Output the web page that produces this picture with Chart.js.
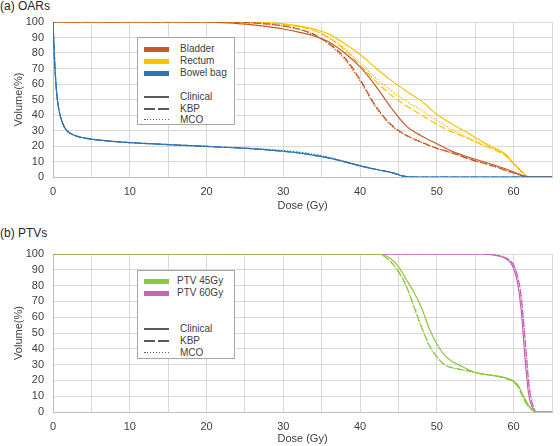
<!DOCTYPE html>
<html>
<head>
<meta charset="utf-8">
<script src="https://cdn.jsdelivr.net/npm/chart.js@4.4.1/dist/chart.umd.min.js"></script>
<style>
  body { margin: 0; background: #fff; font-family: "Liberation Sans", Arial, sans-serif; }
  #wrap { position: relative; width: 560px; height: 446px; overflow: hidden; }
  .box { position: absolute; left: 0; }
  .title { position: absolute; left: 0; font-size: 12px; color: #262626; }
  .legend { position: absolute; background: #fff; border: 1px solid #a6a6a6; box-sizing: border-box; }
  .item { position: absolute; left: 6px; height: 12px; font-size: 10px; color: #404040; }
  .item span.sw { position: absolute; left: 0; top: 4px; width: 25px; height: 5px; }
  .item span.ln { position: absolute; left: 0; top: 5px; width: 25px; height: 1.5px; background: #595959; }
  .item span.ln.dash { background: repeating-linear-gradient(to right, #595959 0 11px, transparent 11px 14px); }
  .item span.ln.dot { height: 1px; background: repeating-linear-gradient(to right, #595959 0 1.5px, transparent 1.5px 3px); }
  .item span.tx { position: absolute; left: 36px; top: 0; white-space: nowrap; }
</style>
</head>
<body>
<div id="wrap">
  <div class="title" style="top:-1px;">(a) OARs</div>
  <div class="box" style="top:0;"><canvas id="oarChart" width="560" height="215"></canvas></div>
  <div class="title" style="top:226px;">(b) PTVs</div>
  <div class="box" style="top:215px;"><canvas id="ptvChart" width="560" height="231"></canvas></div>

  <div class="legend" style="left:137px; top:37px; width:98px; height:88px;">
    <div class="item" style="top:5px;"><span class="sw" style="background:#C55A28"></span><span class="tx">Bladder</span></div>
    <div class="item" style="top:17px;"><span class="sw" style="background:#FFC000"></span><span class="tx">Rectum</span></div>
    <div class="item" style="top:29px;"><span class="sw" style="background:#2E75B6"></span><span class="tx">Bowel bag</span></div>
    <div class="item" style="top:53px;"><span class="ln"></span><span class="tx">Clinical</span></div>
    <div class="item" style="top:65px;"><span class="ln dash"></span><span class="tx">KBP</span></div>
    <div class="item" style="top:76px;"><span class="ln dot"></span><span class="tx">MCO</span></div>
  </div>

  <div class="legend" style="left:137px; top:270px; width:98px; height:89px;">
    <div class="item" style="top:4px;"><span class="sw" style="background:#8DC63F"></span><span class="tx" style="left:33px">PTV 45Gy</span></div>
    <div class="item" style="top:16px;"><span class="sw" style="background:#C963B3"></span><span class="tx" style="left:33px">PTV 60Gy</span></div>
    <div class="item" style="top:52px;"><span class="ln"></span><span class="tx">Clinical</span></div>
    <div class="item" style="top:64px;"><span class="ln dash"></span><span class="tx">KBP</span></div>
    <div class="item" style="top:76px;"><span class="ln dot"></span><span class="tx">MCO</span></div>
  </div>
</div>

<script>
// Dose grid for the OAR panel (Gy)
const doseOAR = [0, 0.1, 0.25, 0.5, 0.75, 1, 1.5, 2, 3, 4, 5, 7, 10, 15, 20,
  22, 24, 26, 28, 30, 32, 34, 36, 38, 40, 42, 44, 46, 48, 50, 52, 54, 56, 58, 59, 60, 61, 62, 65];

// Bladder (% volume)
const bladderClinical = [100, 100, 100, 100, 100, 100, 100, 100, 100, 100, 100, 100, 100, 100, 100,
  99.5, 99, 98.2, 97, 95.5, 93.5, 91, 87, 80, 71, 59, 45, 33, 26.5, 21.5, 16.5, 13, 10, 6.8, 5.2, 3.2, 1.3, 0, 0];
const bladderKBP = [100, 100, 100, 100, 100, 100, 100, 100, 100, 100, 100, 100, 100, 100, 100,
  100, 99.8, 99.4, 98.7, 97.5, 95.5, 92, 86, 77, 63, 46, 34, 27, 22.5, 18.5, 15.5, 12, 9, 6, 4.2, 2.6, 1, 0, 0];
const bladderMCO = [100, 100, 100, 100, 100, 100, 100, 100, 100, 100, 100, 100, 100, 100, 100,
  100, 99.8, 99.4, 98.6, 97.3, 95.3, 91.7, 85.5, 76, 62, 45.5, 33.5, 26.8, 22.3, 18.5, 15.5, 12, 9, 6, 4.2, 2.6, 1, 0, 0];

// Rectum (% volume)
const rectumClinical = [100, 100, 100, 100, 100, 100, 100, 100, 100, 100, 100, 100, 100, 100, 100,
  100, 100, 99.8, 99.5, 98.8, 97.5, 95.5, 92, 86, 79, 70.5, 62.5, 55.5, 49, 40.5, 34, 28.5, 22.5, 17.5, 14.5, 9, 4, 0, 0];
const rectumKBP = [100, 100, 100, 100, 100, 100, 100, 100, 100, 100, 100, 100, 100, 100, 100,
  100, 100, 99.8, 99.4, 98.5, 97, 94.5, 89.5, 82, 72, 62, 53, 46, 40, 34, 29, 25, 20.5, 16.5, 13.5, 8.5, 3.5, 0, 0];
const rectumMCO = [100, 100, 100, 100, 100, 100, 100, 100, 100, 100, 100, 100, 100, 100, 100,
  100, 100, 99.8, 99.4, 98.5, 97, 94.7, 90, 83, 73.5, 64, 56, 49, 43, 36.5, 30.5, 25.5, 21, 16.8, 13.8, 8.5, 3.5, 0, 0];

// Bowel bag (% volume)
const bowelClinical = [100, 88, 71, 53, 44, 38.5, 32, 29, 26.5, 25.2, 24.4, 23.3, 22.2, 20.9, 19.7,
  19.2, 18.8, 18.2, 17.5, 16.6, 15.5, 14, 12.2, 9.8, 7.2, 5, 3, 0.3, 0, 0, 0, 0, 0, 0, 0, 0, 0, 0, 0];
const bowelKBP = [100, 88, 71, 53, 44, 38.5, 32, 29, 26.5, 25.2, 24.4, 23.3, 22.2, 20.9, 19.7,
  19.2, 18.8, 18.2, 17.5, 16.6, 15.5, 14, 12.2, 9.8, 7.2, 5, 3, 0.3, 0, 0, 0, 0, 0, 0, 0, 0, 0, 0, 0];
const bowelMCO = [100, 88, 71, 53, 44, 38.5, 32, 29, 26.5, 25.2, 24.4, 23.3, 22.2, 20.9, 19.8,
  19.3, 18.9, 18.4, 17.8, 17, 16.1, 14.6, 12.6, 10, 7.3, 5, 3, 0.3, 0, 0, 0, 0, 0, 0, 0, 0, 0, 0, 0];

// Dose grid for the PTV panel (Gy)
const dosePTV = [0, 40, 42, 43, 44, 45, 46, 47, 48, 49, 50, 51, 52, 53, 54, 55, 56, 57, 58, 59,
  59.5, 60, 60.5, 61, 61.5, 62, 62.5, 63, 65];

const ptv45Clinical = [100, 100, 100, 99.5, 97, 92, 84, 76, 66, 53, 43, 36, 32, 29.5, 27, 25, 24, 23.3, 22.5, 21.5,
  20.8, 19.5, 17.5, 13, 8, 4, 1.5, 0, 0];
const ptv45KBP = [100, 100, 100, 99, 95, 89, 80, 67, 54, 42.5, 35, 30, 28, 27, 26, 25, 24, 23.3, 22.5, 21.3,
  20.3, 18.8, 16.3, 11.5, 6.5, 3, 1, 0, 0];
const ptv45MCO = [100, 100, 100, 99, 95, 88.5, 79.5, 66.5, 53.5, 42, 34.7, 30, 28, 27, 26, 25, 24, 23.3, 22.5, 21.4,
  20.5, 19, 16.8, 12, 7, 3.3, 1, 0, 0];

const ptv60Clinical = [100, 100, 100, 100, 100, 100, 100, 100, 100, 100, 100, 100, 100, 100, 100, 100, 100, 99.6, 98.8, 97,
  95, 91, 82, 64, 33, 10, 2.5, 0, 0];
const ptv60KBP = [100, 100, 100, 100, 100, 100, 100, 100, 100, 100, 100, 100, 100, 100, 100, 100, 100, 99.7, 99, 97.5,
  96, 93, 86, 72, 45, 17, 4, 0, 0];
const ptv60MCO = [100, 100, 100, 100, 100, 100, 100, 100, 100, 100, 100, 100, 100, 100, 100, 100, 100, 99.7, 99, 97.5,
  96, 93, 86.5, 73, 46, 18, 4.5, 0, 0];

const FONT = "'Liberation Sans', Arial, sans-serif";
const KBP_DASH = [7, 3];
const MCO_DASH = [1.5, 1.5];

/**
 * Build one DVH line dataset
 */
function dvh(label, dose, vol, color, dash) {
  return {
    label,
    data: dose.map((d, i) => ({ x: d, y: vol[i] })),
    borderColor: color,
    borderWidth: 1.2,
    borderDash: dash || [],
    pointRadius: 0,
    fill: false,
    cubicInterpolationMode: "monotone",
  };
}

/**
 * Shared axis and layout options
 */
function dvhOptions(padding, yWidth, xHeight) {
  return {
    responsive: false,
    animation: false,
    devicePixelRatio: 1,
    layout: { padding },
    plugins: { legend: { display: false }, tooltip: { enabled: false } },
    scales: {
      x: {
        type: "linear",
        min: 0,
        max: 65,
        afterFit: (s) => { s.height = xHeight; },
        grid: { color: "#d9d9d9", drawTicks: false },
        border: { color: "#bfbfbf" },
        ticks: {
          stepSize: 5,
          autoSkip: false,
          maxRotation: 0,
          padding: 8,
          color: "#404040",
          font: { family: FONT, size: 11 },
          callback: (v) => (v % 10 === 0 ? v : ""),
        },
        title: {
          display: true,
          text: "Dose (Gy)",
          color: "#404040",
          font: { family: FONT, size: 11 },
          padding: { top: 0, bottom: 0 },
        },
      },
      y: {
        min: 0,
        max: 100,
        afterFit: (s) => { s.width = yWidth; },
        grid: { color: "#d9d9d9", drawTicks: false },
        border: { color: "#bfbfbf" },
        ticks: {
          stepSize: 10,
          autoSkip: false,
          padding: 9,
          color: "#404040",
          font: { family: FONT, size: 11 },
        },
        title: {
          display: true,
          text: "Volume(%)",
          color: "#404040",
          font: { family: FONT, size: 11 },
          padding: { top: 12, bottom: 0 },
        },
      },
    },
  };
}

new Chart(document.getElementById("oarChart"), {
  type: "line",
  data: {
    datasets: [
      dvh("Bowel bag Clinical", doseOAR, bowelClinical, "#2E75B6"),
      dvh("Bowel bag KBP", doseOAR, bowelKBP, "#2E75B6", KBP_DASH),
      dvh("Bowel bag MCO", doseOAR, bowelMCO, "#2E75B6", MCO_DASH),
      dvh("Bladder Clinical", doseOAR, bladderClinical, "#C55A28"),
      dvh("Bladder KBP", doseOAR, bladderKBP, "#C55A28", KBP_DASH),
      dvh("Bladder MCO", doseOAR, bladderMCO, "#C55A28", MCO_DASH),
      dvh("Rectum Clinical", doseOAR, rectumClinical, "#FFC000"),
      dvh("Rectum KBP", doseOAR, rectumKBP, "#FFC000", KBP_DASH),
      dvh("Rectum MCO", doseOAR, rectumMCO, "#FFC000", MCO_DASH),
    ],
  },
  options: dvhOptions({ top: 22, right: 1, bottom: 2, left: 0 }, 53, 36),
});

new Chart(document.getElementById("ptvChart"), {
  type: "line",
  data: {
    datasets: [
      dvh("PTV 45Gy Clinical", dosePTV, ptv45Clinical, "#8DC63F"),
      dvh("PTV 45Gy KBP", dosePTV, ptv45KBP, "#8DC63F", KBP_DASH),
      dvh("PTV 45Gy MCO", dosePTV, ptv45MCO, "#8DC63F", MCO_DASH),
      dvh("PTV 60Gy Clinical", dosePTV, ptv60Clinical, "#C963B3"),
      dvh("PTV 60Gy KBP", dosePTV, ptv60KBP, "#C963B3", KBP_DASH),
      dvh("PTV 60Gy MCO", dosePTV, ptv60MCO, "#C963B3", MCO_DASH),
    ],
  },
  options: dvhOptions({ top: 39, right: 7, bottom: 0, left: 0 }, 53, 34),
});
</script>
</body>
</html>
